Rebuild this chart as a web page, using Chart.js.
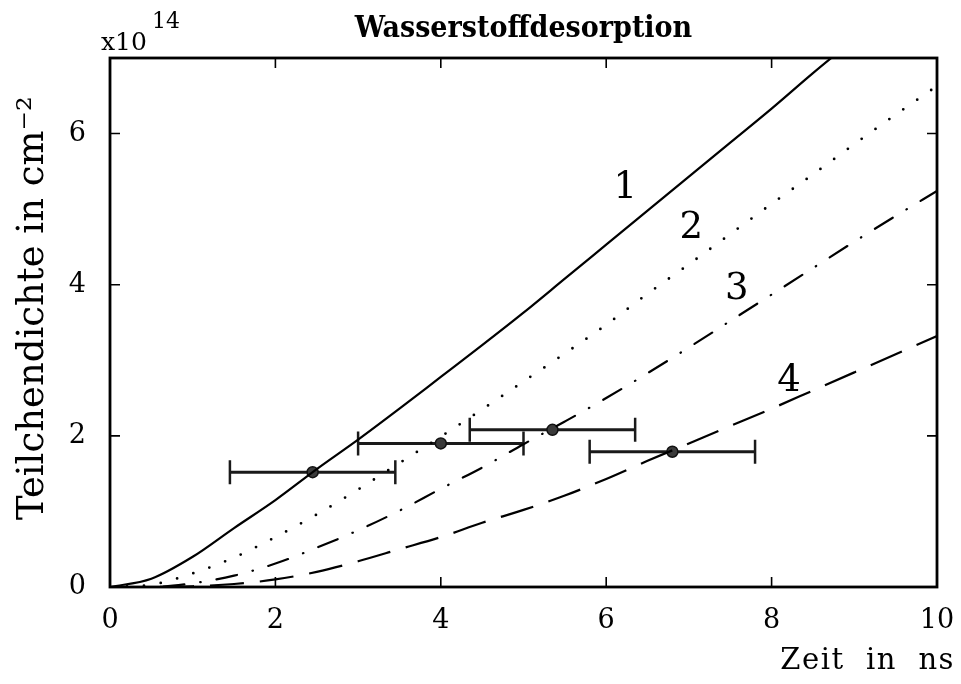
<!DOCTYPE html>
<html>
<head>
<meta charset="utf-8">
<title>Wasserstoffdesorption</title>
<script src="https://cdn.jsdelivr.net/npm/chart.js@4.4.0/dist/chart.umd.min.js"></script>
<style>
    html, body { margin: 0; padding: 0; background: #fff; }
</style>
</head>
<body>
<canvas id="desorpChart" width="961" height="684"></canvas>
<script>
// Zeit in ns, Teilchendichte in 1e14 cm^-2
var zeit   = [0, 0.5, 1, 1.5, 2, 2.5, 3, 3.5, 4, 4.5, 5, 5.5, 6, 6.5, 7, 7.5, 8, 8.5, 9, 9.5, 10];
var kurve1 = [0, 0.11, 0.40, 0.78, 1.15, 1.56, 1.95, 2.36, 2.78, 3.20, 3.63, 4.08, 4.53, 4.98, 5.43, 5.88, 6.33, 6.80, 7.25, null, null];
var kurve2 = [0, 0.03, 0.18, 0.39, 0.66, 0.96, 1.29, 1.64, 1.99, 2.35, 2.72, 3.09, 3.47, 3.88, 4.27, 4.67, 5.07, 5.46, 5.86, 6.25, 6.63];
var kurve3 = [0, 0, 0.05, 0.15, 0.31, 0.52, 0.75, 1.01, 1.30, 1.58, 1.89, 2.19, 2.50, 2.83, 3.17, 3.52, 3.87, 4.22, 4.57, 4.91, 5.24];
var kurve4 = [0, 0, 0.01, 0.04, 0.10, 0.20, 0.34, 0.50, 0.66, 0.85, 1.02, 1.21, 1.43, 1.67, 1.90, 2.13, 2.36, 2.60, 2.84, 3.08, 3.32];

// Messpunkte mit Zeitfehler
var messZeit   = [2.45, 4.0, 5.35, 6.8];
var messDichte = [1.52, 1.90, 2.08, 1.79];
var messFehler = [1.0, 1.0, 1.0, 1.0];

var xTicks = [0, 2, 4, 6, 8, 10];
var yTicks = [0, 2, 4, 6];

var kurvenNamen = ['1', '2', '3', '4'];
var namenZeit   = [6.23, 7.03, 7.58, 8.21];
var namenDichte = [5.28, 4.74, 3.94, 2.72];

var schrift = '"DejaVu Serif", serif';

function punkte(ys) {
    return zeit.map(function (x, i) { return { x: x, y: ys[i] }; });
}

function kurve(ys, dash, cap, breite) {
    return {
        type: 'line',
        data: punkte(ys),
        borderColor: '#000',
        borderWidth: breite || 2.2,
        borderDash: dash,
        borderCapStyle: cap || 'butt',
        pointRadius: 0,
        fill: false,
        spanGaps: false,
        cubicInterpolationMode: 'monotone'
    };
}

// Rahmen, Innen-Ticks, Fehlerbalken und Beschriftungen
var rahmenPlugin = {
    id: 'rahmen',
    beforeDatasetsDraw: function (chart) {
        var ctx = chart.ctx, xs = chart.scales.x, ys = chart.scales.y;
        ctx.save();
        ctx.strokeStyle = '#1a1a1a';
        for (var i = 0; i < messZeit.length; i++) {
            var x0 = xs.getPixelForValue(messZeit[i] - messFehler[i]);
            var x1 = xs.getPixelForValue(messZeit[i] + messFehler[i]);
            var y = ys.getPixelForValue(messDichte[i]);
            ctx.lineWidth = 3;
            ctx.beginPath();
            ctx.moveTo(x0, y);
            ctx.lineTo(x1, y);
            ctx.stroke();
            ctx.lineWidth = 2.5;
            ctx.beginPath();
            ctx.moveTo(x0, y - 12);
            ctx.lineTo(x0, y + 12);
            ctx.moveTo(x1, y - 12);
            ctx.lineTo(x1, y + 12);
            ctx.stroke();
        }
        ctx.restore();
    },
    afterDraw: function (chart) {
        var ctx = chart.ctx, a = chart.chartArea;
        var xs = chart.scales.x, ys = chart.scales.y;
        ctx.save();
        ctx.strokeStyle = '#000';
        ctx.lineWidth = 2.8;
        ctx.strokeRect(a.left, a.top, a.right - a.left, a.bottom - a.top);

        ctx.lineWidth = 1.6;
        ctx.beginPath();
        xTicks.forEach(function (v) {
            if (v === 0 || v === 10) return;
            var px = xs.getPixelForValue(v);
            ctx.moveTo(px, a.bottom);
            ctx.lineTo(px, a.bottom - 10);
            ctx.moveTo(px, a.top);
            ctx.lineTo(px, a.top + 10);
        });
        yTicks.forEach(function (v) {
            if (v === 0) return;
            var py = ys.getPixelForValue(v);
            ctx.moveTo(a.left, py);
            ctx.lineTo(a.left + 10, py);
            ctx.moveTo(a.right, py);
            ctx.lineTo(a.right - 10, py);
        });
        ctx.stroke();

        ctx.fillStyle = '#000';
        ctx.textAlign = 'center';
        ctx.textBaseline = 'middle';
        ctx.font = '37px ' + schrift;
        for (var i = 0; i < kurvenNamen.length; i++) {
            ctx.fillText(kurvenNamen[i], xs.getPixelForValue(namenZeit[i]), ys.getPixelForValue(namenDichte[i]));
        }

        // Titel
        ctx.textBaseline = 'alphabetic';
        ctx.font = 'bold 30px "DejaVu Serif Condensed", "Liberation Serif", serif';
        ctx.fillText('Wasserstoffdesorption', (a.left + a.right) / 2, 37);

        // Exponent der y-Achse
        ctx.textAlign = 'left';
        ctx.font = '25px ' + schrift;
        ctx.fillText('x10', 101, 50);
        ctx.font = '22px ' + schrift;
        ctx.fillText('14', 152, 28);

        // Achsentitel x
        ctx.textAlign = 'right';
        ctx.font = '29px ' + schrift;
        ctx.letterSpacing = '1.5px';
        ctx.fillText('Zeit  in  ns', 955, 669);
        ctx.letterSpacing = '0px';

        // Achsentitel y
        ctx.translate(43, 308);
        ctx.rotate(-Math.PI / 2);
        ctx.textAlign = 'center';
        ctx.font = '37px ' + schrift;
        ctx.fillText('Teilchendichte in cm⁻²', 0, 0);
        ctx.restore();
    }
};

var ctx = document.getElementById('desorpChart').getContext('2d');
var chart = new Chart(ctx, {
    type: 'scatter',
    data: {
        datasets: [
            kurve(kurve1, [], 'butt', 2.2),
            kurve(kurve2, [0, 17], 'round', 2.8),
            kurve(kurve3, [21, 16, 0.5, 16], 'round', 2.2),
            kurve(kurve4, [34, 16], 'butt', 2.2),
            {
                type: 'scatter',
                data: messZeit.map(function (x, i) { return { x: x, y: messDichte[i] }; }),
                pointRadius: 5.5,
                backgroundColor: '#3a3a3a',
                borderColor: '#111',
                borderWidth: 1.5
            }
        ]
    },
    options: {
        responsive: false,
        animation: false,
        layout: { padding: { top: 58, right: 24, left: 0, bottom: 0 } },
        plugins: { legend: { display: false }, tooltip: { enabled: false } },
        scales: {
            x: {
                type: 'linear',
                min: 0,
                max: 10,
                afterBuildTicks: function (scale) {
                    scale.ticks = xTicks.map(function (v) { return { value: v }; });
                },
                afterFit: function (scale) {
                    scale.height = 97;
                    scale.paddingLeft = 0;
                    scale.paddingRight = 0;
                },
                grid: { display: false, drawTicks: false },
                border: { display: false },
                ticks: { color: '#000', font: { family: schrift, size: 27 }, padding: 18, maxRotation: 0 }
            },
            y: {
                type: 'linear',
                min: 0,
                max: 7,
                afterBuildTicks: function (scale) {
                    scale.ticks = yTicks.map(function (v) { return { value: v }; });
                },
                afterFit: function (scale) {
                    scale.width = 110;
                    scale.paddingTop = 0;
                    scale.paddingBottom = 0;
                },
                grid: { display: false, drawTicks: false },
                border: { display: false },
                ticks: { color: '#000', font: { family: schrift, size: 27 }, padding: 24 }
            }
        }
    },
    plugins: [rahmenPlugin]
});
</script>
</body>
</html>
